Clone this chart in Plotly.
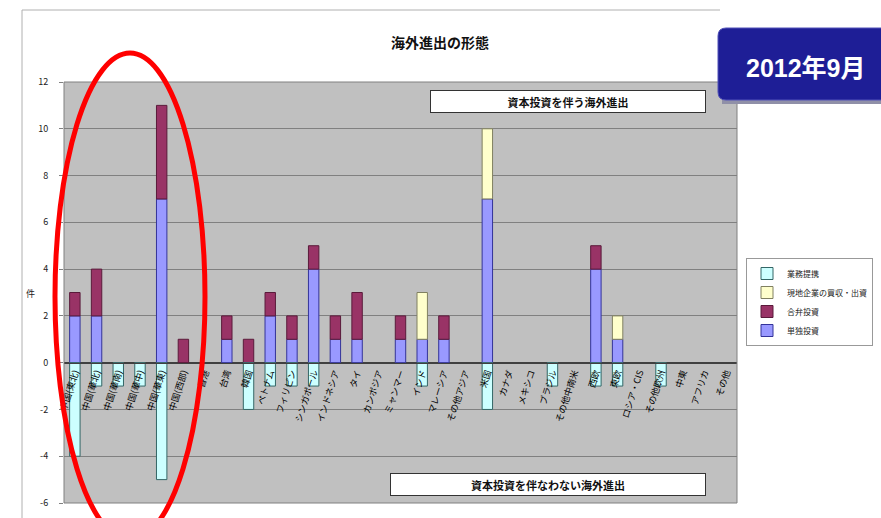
import plotly.graph_objects as go

# ---------------- data ----------------
categories = ["中国(東北)", "中国(華北)", "中国(華南)", "中国(華中)", "中国(華東)", "中国(西部)",
              "香港", "台湾", "韓国", "ベトナム", "フィリピン", "シンガポール", "インドネシア", "タイ",
              "カンボジア", "ミャンマー", "インド", "マレーシア", "その他アジア", "米国", "カナダ",
              "メキシコ", "ブラジル", "その他中南米", "西欧", "東欧", "ロシア・CIS", "その他欧州",
              "中東", "アフリカ", "その他"]
tandoku = [2, 2, 0, 0, 7, 0, 0, 1, 0, 2, 1, 4, 1, 1, 0, 1, 1, 1, 0, 7, 0, 0, 0, 0, 4, 1, 0, 0, 0, 0, 0]
goben   = [1, 2, 0, 0, 4, 1, 0, 1, 1, 1, 1, 1, 1, 2, 0, 1, 0, 1, 0, 0, 0, 0, 0, 0, 1, 0, 0, 0, 0, 0, 0]
baishu  = [0, 0, 0, 0, 0, 0, 0, 0, 0, 0, 0, 0, 0, 0, 0, 0, 2, 0, 0, 3, 0, 0, 0, 0, 0, 1, 0, 0, 0, 0, 0]
gyomu   = [-4, -1, -1, -1, -5, 0, 0, 0, -2, -1, -1, -1, 0, 0, 0, 0, -1, 0, 0, -2, 0, 0, -1, 0, -1, -1, 0, -1, 0, 0, 0]
y_tick_vals = [-6, -4, -2, 0, 2, 4, 6, 8, 10, 12]
y_tick_text = ["-6", "-4", "-2", "0", "2", "4", "6", "8", "10", "12"]

FONT = "Noto Sans CJK JP"
W, H = 881, 518
L, R, T, B = 64, 737, 82, 503


def px(x):
    return (x - L) / (R - L)


def py(y):
    return (B - y) / (B - T)


def nz(arr):
    return [v if v else None for v in arr]


series = [
    ("単独投資", tandoku, "#9999ff", "#333399"),
    ("合弁投資", goben, "#993366", "#5a1a3a"),
    ("現地企業の買収・出資", baishu, "#ffffcc", "#808060"),
    ("業務提携", gyomu, "#ccffff", "#336666"),
]

fig = go.Figure()
for name, vals, col, edge in series:
    fig.add_trace(go.Bar(x=categories, y=nz(vals), name=name,
                         marker=dict(color=col, line=dict(color=edge, width=1))))

shapes = [
    # chart-area frame lines
    dict(type="line", xref="paper", yref="paper", x0=px(22), x1=px(22), y0=py(10), y1=py(530),
         line=dict(color="#b0b0b0", width=1)),
    dict(type="line", xref="paper", yref="paper", x0=px(22), x1=px(720), y0=py(10), y1=py(10),
         line=dict(color="#b0b0b0", width=1)),
    # plot-area border
    dict(type="rect", xref="paper", yref="paper", x0=0, x1=1, y0=0, y1=1,
         line=dict(color="#808080", width=1), layer="above"),
    # blue banner (shadow + box)
    dict(type="rect", xref="paper", yref="paper", x0=px(722), x1=px(900), y0=py(104), y1=py(31),
         fillcolor="#9090a8", line=dict(width=0)),
    dict(type="path", xref="paper", yref="paper",
         path=f"M {px(726)},{py(28)} L {px(900)},{py(28)} L {px(900)},{py(100)} "
              f"L {px(726)},{py(100)} Q {px(718)},{py(100)} {px(718)},{py(92)} "
              f"L {px(718)},{py(36)} Q {px(718)},{py(28)} {px(726)},{py(28)} Z",
         fillcolor="#1e1e96", line=dict(color="#5050b8", width=1)),
    # red ellipse
    dict(type="circle", xref="paper", yref="paper", x0=px(55), x1=px(205), y0=py(540), y1=py(53),
         line=dict(color="#ff0000", width=5), layer="above"),
]

C = dict(xanchor="center", yanchor="middle", showarrow=False, xref="paper", yref="paper")
annotations = [
    dict(text="<b>海外進出の形態</b>", x=px(440), y=py(42),
         font=dict(size=14, color="#111", family=FONT), **C),
    dict(text="件", x=px(30), y=py(293),
         font=dict(size=9, color="#222", family=FONT), **C),
    dict(text="<b>資本投資を伴う海外進出</b>", x=px(568), y=py(101.5),
         width=272, height=19, bgcolor="white", bordercolor="#333", borderwidth=1,
         font=dict(size=11, color="#111", family=FONT), **C),
    dict(text="<b>資本投資を伴なわない海外進出</b>", x=px(548), y=py(484),
         width=312, height=19, bgcolor="white", bordercolor="#333", borderwidth=1,
         font=dict(size=11, color="#111", family=FONT), **C),
    dict(text="<b>2012年9月</b>", x=px(744), y=py(68), xref="paper", yref="paper",
         xanchor="left", yanchor="middle", showarrow=False,
         font=dict(size=25, color="white", family="Liberation Sans, " + FONT)),
]

fig.update_layout(
    width=W, height=H,
    margin=dict(l=L, r=W - R, t=T, b=H - B, autoexpand=False),
    paper_bgcolor="white", plot_bgcolor="#c0c0c0",
    barmode="relative", bargap=0.52,
    font=dict(family=FONT, size=9, color="#222"),
    shapes=shapes, annotations=annotations,
    legend=dict(x=px(746), y=py(258), xanchor="left", yanchor="top", traceorder="reversed",
                bgcolor="white", bordercolor="#999", borderwidth=1,
                font=dict(size=8, color="#222", family=FONT), itemwidth=30,
                tracegroupgap=0),
    showlegend=True,
)
fig.update_xaxes(type="category", range=[-0.5, len(categories) - 0.5], anchor="free",
                 position=1 / 3, showline=True, linecolor="#404040", linewidth=1,
                 tickangle=-72, tickfont=dict(size=9, color="#000", family=FONT),
                 showgrid=False, ticks="", automargin=False, fixedrange=True)
fig.update_yaxes(range=[-6, 12], tickvals=y_tick_vals, ticktext=y_tick_text,
                 gridcolor="#808080", gridwidth=1, zeroline=True, zerolinecolor="#404040",
                 ticks="outside", ticklen=4, tickcolor="#808080", ticklabelstandoff=9,
                 tickfont=dict(size=9, color="#222", family=FONT), automargin=False)

fig.write_html("out.html", config={"displayModeBar": False},
               post_script="document.body.style.margin='0';")
